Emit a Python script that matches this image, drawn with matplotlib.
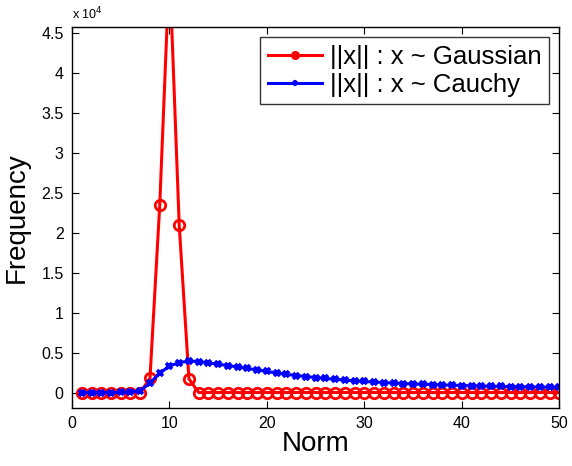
"""Histogram of norms: Gaussian vs Cauchy samples."""

import numpy as np
import matplotlib.pyplot as plt
from matplotlib.ticker import FuncFormatter

plt.rcParams['font.family'] = ['Liberation Sans', 'DejaVu Sans']

norm_bins = list(range(1, 51))

gaussian_freq = [0, 0, 0, 0, 0, 0, 0, 1800, 23450, 53500,
                 20950, 1700, 0, 0, 0, 0, 0, 0, 0, 0,
                 0, 0, 0, 0, 0, 0, 0, 0, 0, 0,
                 0, 0, 0, 0, 0, 0, 0, 0, 0, 0,
                 0, 0, 0, 0, 0, 0, 0, 0, 0, 0]

cauchy_freq = [0, 0, 0, 0, 10, 40, 220, 1200, 2420, 3330,
               3750, 3950, 3880, 3720, 3550, 3380, 3210, 3020, 2840, 2640,
               2450, 2280, 2130, 2000, 1880, 1770, 1660, 1560, 1470, 1390,
               1320, 1250, 1190, 1130, 1080, 1040, 1000, 960, 920, 880,
               850, 820, 790, 770, 750, 730, 710, 690, 680, 670]

fig = plt.figure(figsize=(5.72, 4.66), dpi=100)
ax = fig.add_axes([0.1259, 0.1251, 0.8519, 0.8176])

ax.plot(norm_bins, gaussian_freq, '-o', color='red', lw=2.2, ms=7.5,
        mew=2.0, mfc='none', label='||x|| : x ~ Gaussian')
ax.plot(norm_bins, cauchy_freq, '-x', color='blue', lw=2.2, ms=5,
        mew=2.6, label='||x|| : x ~ Cauchy')

ax.set_xlim(0, 50)
ax.set_ylim(-1900, 45850)
ax.set_xticks(np.arange(0, 51, 10))
ax.set_yticks(np.arange(0, 45001, 5000))
ax.yaxis.set_major_formatter(FuncFormatter(lambda v, p: f"{v / 1e4:g}"))

ax.tick_params(direction='in', length=5, width=0.8, top=True, right=True,
               labelsize=11.5, pad=6)
for s in ax.spines.values():
    s.set_linewidth(1.0)

ax.text(0.0, 1.012, r'x 10$^4$', transform=ax.transAxes, fontsize=9,
        ha='left', va='bottom')

ax.set_xlabel('Norm', fontsize=20, labelpad=0)
ax.set_ylabel('Frequency', fontsize=20, labelpad=8)

leg = ax.legend(loc='upper right', fontsize=18.5, fancybox=False,
                edgecolor='black', handlelength=2.1, borderpad=0.3,
                labelspacing=0.15, handletextpad=0.3, borderaxespad=0.4,
                markerscale=0.6)
leg.get_frame().set_linewidth(1.0)
for h in leg.legend_handles:
    h.set_markerfacecolor('none') if h.get_marker() == 'o' else None

fig.savefig('out.png', dpi=100)
